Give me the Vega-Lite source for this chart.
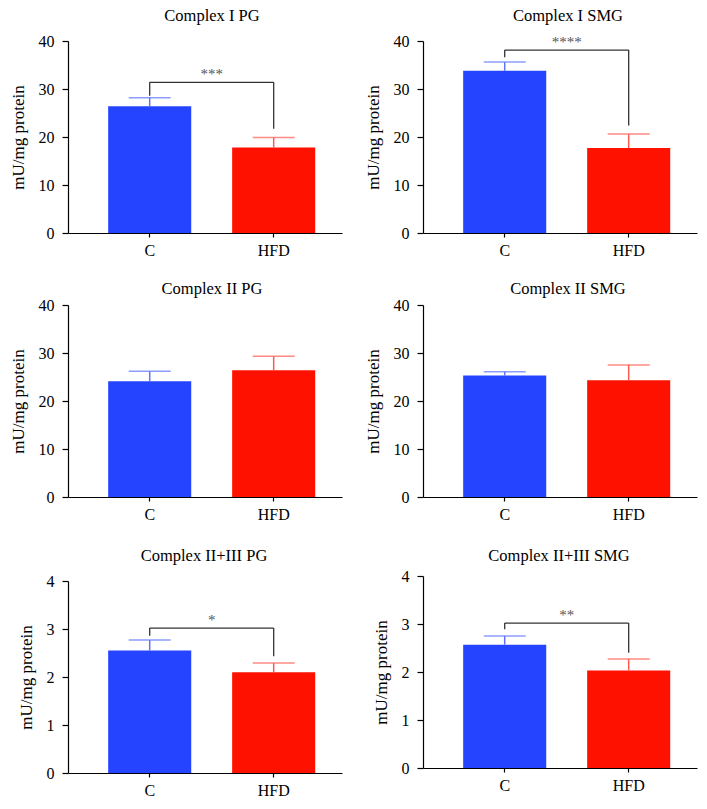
{
  "$schema": "https://vega.github.io/schema/vega-lite/v6.json",
  "padding": {"left": 9, "top": 7, "right": 5, "bottom": 0},
  "spacing": 22,
  "hconcat": [
    {
      "spacing": 25,
      "vconcat": [
        {
          "spacing": 22,
          "vconcat": [
            {
              "width": 274, "height": 192,
              "title": {"text": "Complex I PG", "offset": 9, "dx": 7},
              "layer": [
                {
                  "data": {"values": [{"group": "C", "mean": 26.4, "upper": 28.2}, {"group": "HFD", "mean": 17.8, "upper": 19.9}]},
                  "layer": [
                    {"mark": {"type": "bar"}, "encoding": {
                      "x": {"field": "group", "type": "nominal", "scale": {"domain": ["C", "HFD"], "paddingInner": 0.33, "paddingOuter": 0.27, "align": 0.6}, "axis": {"title": null}},
                      "y": {"field": "mean", "type": "quantitative", "scale": {"domain": [0, 40], "nice": false}, "axis": {"title": "mU/mg protein", "values": [0, 10, 20, 30, 40]}},
                      "color": {"field": "group", "type": "nominal", "scale": {"domain": ["C", "HFD"], "range": ["#2444FF", "#FF1100"]}, "legend": null}}},
                    {"mark": {"type": "rule", "strokeWidth": 1.5}, "encoding": {
                      "x": {"field": "group", "type": "nominal"},
                      "y": {"field": "mean", "type": "quantitative"}, "y2": {"field": "upper"},
                      "color": {"condition": {"test": "datum.group == 'C'", "value": "#5B74FF"}, "value": "#FF5A50"}}},
                    {"mark": {"type": "tick", "orient": "horizontal", "size": 42, "thickness": 1.5}, "encoding": {
                      "x": {"field": "group", "type": "nominal"},
                      "y": {"field": "upper", "type": "quantitative"},
                      "color": {"condition": {"test": "datum.group == 'C'", "value": "#5B74FF"}, "value": "#FF5A50"}}}
                  ]
                },
                {
                  "data": {"values": [{"a": "C", "b": "HFD", "y1": 31.4, "y2": 31.4}, {"a": "C", "b": "C", "y1": 31.4, "y2": 28.6}, {"a": "HFD", "b": "HFD", "y1": 31.4, "y2": 21.7}]},
                  "mark": {"type": "rule", "color": "#333333", "strokeWidth": 1.3},
                  "encoding": {"x": {"field": "a", "type": "nominal"}, "x2": {"field": "b"}, "y": {"field": "y1", "type": "quantitative"}, "y2": {"field": "y2"}}
                },
                {
                  "data": {"values": [{"a": "C", "label": "***", "y": 33.1}]},
                  "mark": {"type": "text", "fontSize": 15, "color": "#555555", "baseline": "middle", "align": "center"},
                  "encoding": {"x": {"field": "a", "type": "nominal", "bandPosition": 1.247}, "y": {"field": "y", "type": "quantitative"}, "text": {"field": "label"}}
                }
              ]
            },
            {
              "width": 274, "height": 192,
              "title": {"text": "Complex II PG", "offset": 0, "dx": 7},
              "layer": [
                {
                  "data": {"values": [{"group": "C", "mean": 24.1, "upper": 26.2}, {"group": "HFD", "mean": 26.4, "upper": 29.3}]},
                  "layer": [
                    {"mark": {"type": "bar"}, "encoding": {
                      "x": {"field": "group", "type": "nominal", "scale": {"domain": ["C", "HFD"], "paddingInner": 0.33, "paddingOuter": 0.27, "align": 0.6}, "axis": {"title": null}},
                      "y": {"field": "mean", "type": "quantitative", "scale": {"domain": [0, 40], "nice": false}, "axis": {"title": "mU/mg protein", "values": [0, 10, 20, 30, 40]}},
                      "color": {"field": "group", "type": "nominal", "scale": {"domain": ["C", "HFD"], "range": ["#2444FF", "#FF1100"]}, "legend": null}}},
                    {"mark": {"type": "rule", "strokeWidth": 1.5}, "encoding": {
                      "x": {"field": "group", "type": "nominal"},
                      "y": {"field": "mean", "type": "quantitative"}, "y2": {"field": "upper"},
                      "color": {"condition": {"test": "datum.group == 'C'", "value": "#5B74FF"}, "value": "#FF5A50"}}},
                    {"mark": {"type": "tick", "orient": "horizontal", "size": 42, "thickness": 1.5}, "encoding": {
                      "x": {"field": "group", "type": "nominal"},
                      "y": {"field": "upper", "type": "quantitative"},
                      "color": {"condition": {"test": "datum.group == 'C'", "value": "#5B74FF"}, "value": "#FF5A50"}}}
                  ]
                }
              ]
            }
          ]
        },
        {
          "width": 274, "height": 192,
          "title": {"text": "Complex II+III PG", "offset": 9, "dx": -1},
          "layer": [
            {
              "data": {"values": [{"group": "C", "mean": 2.55, "upper": 2.77}, {"group": "HFD", "mean": 2.1, "upper": 2.29}]},
              "layer": [
                {"mark": {"type": "bar"}, "encoding": {
                  "x": {"field": "group", "type": "nominal", "scale": {"domain": ["C", "HFD"], "paddingInner": 0.33, "paddingOuter": 0.27, "align": 0.6}, "axis": {"title": null}},
                  "y": {"field": "mean", "type": "quantitative", "scale": {"domain": [0, 4], "nice": false}, "axis": {"title": "mU/mg protein", "values": [0, 1, 2, 3, 4]}},
                  "color": {"field": "group", "type": "nominal", "scale": {"domain": ["C", "HFD"], "range": ["#2444FF", "#FF1100"]}, "legend": null}}},
                {"mark": {"type": "rule", "strokeWidth": 1.5}, "encoding": {
                  "x": {"field": "group", "type": "nominal"},
                  "y": {"field": "mean", "type": "quantitative"}, "y2": {"field": "upper"},
                  "color": {"condition": {"test": "datum.group == 'C'", "value": "#5B74FF"}, "value": "#FF5A50"}}},
                {"mark": {"type": "tick", "orient": "horizontal", "size": 42, "thickness": 1.5}, "encoding": {
                  "x": {"field": "group", "type": "nominal"},
                  "y": {"field": "upper", "type": "quantitative"},
                  "color": {"condition": {"test": "datum.group == 'C'", "value": "#5B74FF"}, "value": "#FF5A50"}}}
              ]
            },
            {
              "data": {"values": [{"a": "C", "b": "HFD", "y1": 3.02, "y2": 3.02}, {"a": "C", "b": "C", "y1": 3.02, "y2": 2.86}, {"a": "HFD", "b": "HFD", "y1": 3.02, "y2": 2.43}]},
              "mark": {"type": "rule", "color": "#333333", "strokeWidth": 1.3},
              "encoding": {"x": {"field": "a", "type": "nominal"}, "x2": {"field": "b"}, "y": {"field": "y1", "type": "quantitative"}, "y2": {"field": "y2"}}
            },
            {
              "data": {"values": [{"a": "C", "label": "*", "y": 3.18}]},
              "mark": {"type": "text", "fontSize": 15, "color": "#555555", "baseline": "middle", "align": "center"},
              "encoding": {"x": {"field": "a", "type": "nominal", "bandPosition": 1.247}, "y": {"field": "y", "type": "quantitative"}, "text": {"field": "label"}}
            }
          ]
        }
      ]
    },
    {
      "spacing": 25,
      "vconcat": [
        {
          "spacing": 22,
          "vconcat": [
            {
              "width": 274, "height": 192,
              "title": {"text": "Complex I SMG", "offset": 9, "dx": 8},
              "layer": [
                {
                  "data": {"values": [{"group": "C", "mean": 33.8, "upper": 35.6}, {"group": "HFD", "mean": 17.7, "upper": 20.6}]},
                  "layer": [
                    {"mark": {"type": "bar"}, "encoding": {
                      "x": {"field": "group", "type": "nominal", "scale": {"domain": ["C", "HFD"], "paddingInner": 0.33, "paddingOuter": 0.27, "align": 0.6}, "axis": {"title": null}},
                      "y": {"field": "mean", "type": "quantitative", "scale": {"domain": [0, 40], "nice": false}, "axis": {"title": "mU/mg protein", "values": [0, 10, 20, 30, 40]}},
                      "color": {"field": "group", "type": "nominal", "scale": {"domain": ["C", "HFD"], "range": ["#2444FF", "#FF1100"]}, "legend": null}}},
                    {"mark": {"type": "rule", "strokeWidth": 1.5}, "encoding": {
                      "x": {"field": "group", "type": "nominal"},
                      "y": {"field": "mean", "type": "quantitative"}, "y2": {"field": "upper"},
                      "color": {"condition": {"test": "datum.group == 'C'", "value": "#5B74FF"}, "value": "#FF5A50"}}},
                    {"mark": {"type": "tick", "orient": "horizontal", "size": 42, "thickness": 1.5}, "encoding": {
                      "x": {"field": "group", "type": "nominal"},
                      "y": {"field": "upper", "type": "quantitative"},
                      "color": {"condition": {"test": "datum.group == 'C'", "value": "#5B74FF"}, "value": "#FF5A50"}}}
                  ]
                },
                {
                  "data": {"values": [{"a": "C", "b": "HFD", "y1": 38.1, "y2": 38.1}, {"a": "C", "b": "C", "y1": 38.1, "y2": 36.6}, {"a": "HFD", "b": "HFD", "y1": 38.1, "y2": 22.4}]},
                  "mark": {"type": "rule", "color": "#333333", "strokeWidth": 1.3},
                  "encoding": {"x": {"field": "a", "type": "nominal"}, "x2": {"field": "b"}, "y": {"field": "y1", "type": "quantitative"}, "y2": {"field": "y2"}}
                },
                {
                  "data": {"values": [{"a": "C", "label": "****", "y": 39.8}]},
                  "mark": {"type": "text", "fontSize": 15, "color": "#555555", "baseline": "middle", "align": "center"},
                  "encoding": {"x": {"field": "a", "type": "nominal", "bandPosition": 1.247}, "y": {"field": "y", "type": "quantitative"}, "text": {"field": "label"}}
                }
              ]
            },
            {
              "width": 274, "height": 192,
              "title": {"text": "Complex II SMG", "offset": 0, "dx": 8},
              "layer": [
                {
                  "data": {"values": [{"group": "C", "mean": 25.3, "upper": 26.1}, {"group": "HFD", "mean": 24.3, "upper": 27.5}]},
                  "layer": [
                    {"mark": {"type": "bar"}, "encoding": {
                      "x": {"field": "group", "type": "nominal", "scale": {"domain": ["C", "HFD"], "paddingInner": 0.33, "paddingOuter": 0.27, "align": 0.6}, "axis": {"title": null}},
                      "y": {"field": "mean", "type": "quantitative", "scale": {"domain": [0, 40], "nice": false}, "axis": {"title": "mU/mg protein", "values": [0, 10, 20, 30, 40]}},
                      "color": {"field": "group", "type": "nominal", "scale": {"domain": ["C", "HFD"], "range": ["#2444FF", "#FF1100"]}, "legend": null}}},
                    {"mark": {"type": "rule", "strokeWidth": 1.5}, "encoding": {
                      "x": {"field": "group", "type": "nominal"},
                      "y": {"field": "mean", "type": "quantitative"}, "y2": {"field": "upper"},
                      "color": {"condition": {"test": "datum.group == 'C'", "value": "#5B74FF"}, "value": "#FF5A50"}}},
                    {"mark": {"type": "tick", "orient": "horizontal", "size": 42, "thickness": 1.5}, "encoding": {
                      "x": {"field": "group", "type": "nominal"},
                      "y": {"field": "upper", "type": "quantitative"},
                      "color": {"condition": {"test": "datum.group == 'C'", "value": "#5B74FF"}, "value": "#FF5A50"}}}
                  ]
                }
              ]
            }
          ]
        },
        {
          "width": 274, "height": 192,
          "title": {"text": "Complex II+III SMG", "offset": 4, "dx": -1},
          "layer": [
            {
              "data": {"values": [{"group": "C", "mean": 2.57, "upper": 2.75}, {"group": "HFD", "mean": 2.03, "upper": 2.27}]},
              "layer": [
                {"mark": {"type": "bar"}, "encoding": {
                  "x": {"field": "group", "type": "nominal", "scale": {"domain": ["C", "HFD"], "paddingInner": 0.33, "paddingOuter": 0.27, "align": 0.6}, "axis": {"title": null}},
                  "y": {"field": "mean", "type": "quantitative", "scale": {"domain": [0, 4], "nice": false}, "axis": {"title": "mU/mg protein", "values": [0, 1, 2, 3, 4]}},
                  "color": {"field": "group", "type": "nominal", "scale": {"domain": ["C", "HFD"], "range": ["#2444FF", "#FF1100"]}, "legend": null}}},
                {"mark": {"type": "rule", "strokeWidth": 1.5}, "encoding": {
                  "x": {"field": "group", "type": "nominal"},
                  "y": {"field": "mean", "type": "quantitative"}, "y2": {"field": "upper"},
                  "color": {"condition": {"test": "datum.group == 'C'", "value": "#5B74FF"}, "value": "#FF5A50"}}},
                {"mark": {"type": "tick", "orient": "horizontal", "size": 42, "thickness": 1.5}, "encoding": {
                  "x": {"field": "group", "type": "nominal"},
                  "y": {"field": "upper", "type": "quantitative"},
                  "color": {"condition": {"test": "datum.group == 'C'", "value": "#5B74FF"}, "value": "#FF5A50"}}}
              ]
            },
            {
              "data": {"values": [{"a": "C", "b": "HFD", "y1": 3.02, "y2": 3.02}, {"a": "C", "b": "C", "y1": 3.02, "y2": 2.89}, {"a": "HFD", "b": "HFD", "y1": 3.02, "y2": 2.4}]},
              "mark": {"type": "rule", "color": "#333333", "strokeWidth": 1.3},
              "encoding": {"x": {"field": "a", "type": "nominal"}, "x2": {"field": "b"}, "y": {"field": "y1", "type": "quantitative"}, "y2": {"field": "y2"}}
            },
            {
              "data": {"values": [{"a": "C", "label": "**", "y": 3.19}]},
              "mark": {"type": "text", "fontSize": 15, "color": "#555555", "baseline": "middle", "align": "center"},
              "encoding": {"x": {"field": "a", "type": "nominal", "bandPosition": 1.247}, "y": {"field": "y", "type": "quantitative"}, "text": {"field": "label"}}
            }
          ]
        }
      ]
    }
  ],
  "config": {
    "font": "Liberation Serif",
    "view": {"stroke": null},
    "text": {"font": "Liberation Serif"},
    "axis": {"grid": false, "domainColor": "#000000", "tickColor": "#000000", "labelColor": "#000000", "titleColor": "#000000", "labelFont": "Liberation Serif", "labelFontSize": 16, "titleFont": "Liberation Serif", "titleFontSize": 17, "titleFontWeight": "normal", "domainWidth": 1.2, "tickWidth": 1.2},
    "axisY": {"tickSize": 6, "labelPadding": 8, "titlePadding": 11, "labelFont": "Liberation Serif", "titleFont": "Liberation Serif"},
    "axisX": {"tickSize": 4, "labelPadding": 5, "labelAngle": 0, "labelFont": "Liberation Serif", "titleFont": "Liberation Serif"},
    "title": {"font": "Liberation Serif", "fontSize": 16.5, "fontWeight": "normal", "color": "#000000", "frame": "group", "baseline": "alphabetic", "anchor": "middle"}
  }
}
